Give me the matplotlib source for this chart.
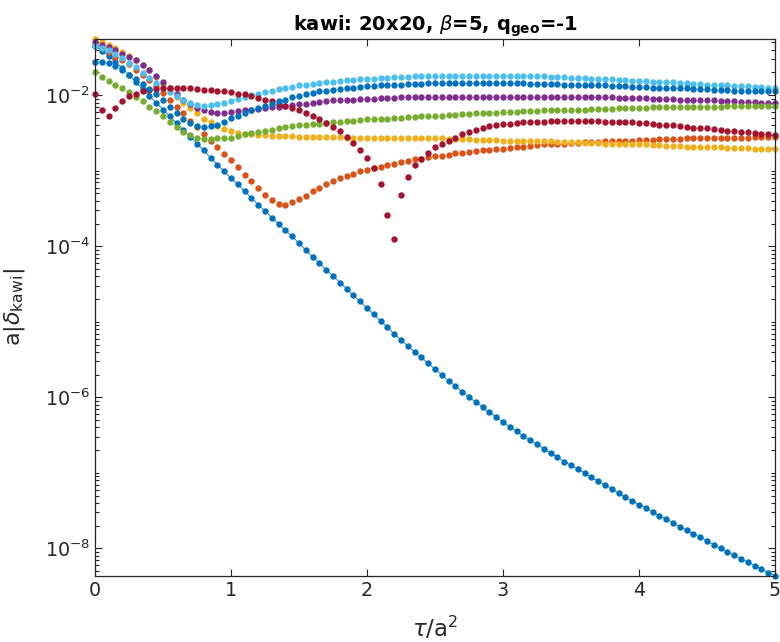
import numpy as np
import matplotlib
matplotlib.use('Agg')
import matplotlib.pyplot as plt
from matplotlib.ticker import LogLocator, FixedLocator, NullFormatter

# time grid (tau/a^2), 101 samples from 0 to 5
tau = np.linspace(0, 5, 101)

# log10 of a|delta_kawi|, one list per series
log_blue_decay = [-1.35, -1.41, -1.48, -1.56, -1.64, -1.73, -1.83, -1.92, -2.01, -2.10,
                  -2.19, -2.28, -2.37, -2.46, -2.55, -2.64, -2.73, -2.83, -2.92, -3.01,
                  -3.10, -3.18, -3.27, -3.36, -3.45, -3.53, -3.62, -3.71, -3.79, -3.87,
                  -3.96, -4.05, -4.14, -4.22, -4.31, -4.39, -4.48, -4.56, -4.65, -4.73,
                  -4.82, -4.90, -4.99, -5.07, -5.16, -5.24, -5.32, -5.40, -5.47, -5.55,
                  -5.63, -5.70, -5.78, -5.85, -5.93, -6.00, -6.06, -6.13, -6.20, -6.26,
                  -6.32, -6.39, -6.45, -6.51, -6.57, -6.62, -6.68, -6.74, -6.79, -6.85,
                  -6.90, -6.95, -7.00, -7.06, -7.11, -7.16, -7.21, -7.27, -7.32, -7.37,
                  -7.42, -7.46, -7.52, -7.57, -7.61, -7.66, -7.71, -7.76, -7.81, -7.85,
                  -7.90, -7.95, -8.00, -8.04, -8.09, -8.14, -8.18, -8.23, -8.27, -8.32, -8.36]

log_orange = [-1.33, -1.38, -1.43, -1.49, -1.54, -1.59, -1.66, -1.73, -1.80, -1.88,
              -1.97, -2.06, -2.15, -2.24, -2.34, -2.42, -2.52, -2.60, -2.69, -2.78,
              -2.86, -2.95, -3.05, -3.14, -3.23, -3.32, -3.39, -3.44, -3.45, -3.42,
              -3.38, -3.33, -3.27, -3.23, -3.18, -3.14, -3.10, -3.07, -3.04, -3.01,
              -2.99, -2.97, -2.95, -2.92, -2.91, -2.89, -2.87, -2.85, -2.84, -2.82,
              -2.81, -2.80, -2.79, -2.77, -2.76, -2.75, -2.74, -2.73, -2.72, -2.71,
              -2.71, -2.70, -2.69, -2.68, -2.67, -2.66, -2.65, -2.65, -2.64, -2.64,
              -2.63, -2.63, -2.62, -2.62, -2.62, -2.61, -2.61, -2.60, -2.60, -2.60,
              -2.59, -2.59, -2.59, -2.58, -2.58, -2.58, -2.58, -2.57, -2.57, -2.57,
              -2.57, -2.57, -2.56, -2.56, -2.56, -2.56, -2.56, -2.55, -2.55, -2.55, -2.55]

log_yellow = [-1.26, -1.29, -1.33, -1.38, -1.43, -1.48, -1.54, -1.60, -1.67, -1.76,
              -1.85, -1.94, -2.02, -2.10, -2.17, -2.24, -2.31, -2.36, -2.41, -2.45,
              -2.48, -2.50, -2.51, -2.52, -2.53, -2.53, -2.54, -2.54, -2.54, -2.54,
              -2.55, -2.55, -2.55, -2.55, -2.55, -2.55, -2.55, -2.56, -2.56, -2.56,
              -2.56, -2.56, -2.57, -2.57, -2.57, -2.57, -2.57, -2.57, -2.57, -2.57,
              -2.57, -2.57, -2.58, -2.58, -2.58, -2.58, -2.59, -2.59, -2.59, -2.59,
              -2.60, -2.60, -2.60, -2.60, -2.61, -2.61, -2.61, -2.61, -2.62, -2.62,
              -2.62, -2.62, -2.63, -2.63, -2.63, -2.64, -2.64, -2.64, -2.65, -2.65,
              -2.65, -2.65, -2.66, -2.66, -2.67, -2.67, -2.67, -2.68, -2.68, -2.68,
              -2.69, -2.69, -2.69, -2.70, -2.70, -2.70, -2.70, -2.71, -2.71, -2.71, -2.71]

log_purple = [-1.30, -1.33, -1.36, -1.40, -1.45, -1.49, -1.54, -1.60, -1.67, -1.75,
              -1.83, -1.91, -1.99, -2.06, -2.12, -2.17, -2.20, -2.22, -2.23, -2.23,
              -2.22, -2.21, -2.20, -2.19, -2.18, -2.17, -2.16, -2.15, -2.14, -2.13,
              -2.12, -2.11, -2.10, -2.09, -2.08, -2.07, -2.07, -2.06, -2.06, -2.05,
              -2.05, -2.05, -2.04, -2.04, -2.04, -2.03, -2.03, -2.03, -2.03, -2.03,
              -2.02, -2.02, -2.02, -2.02, -2.02, -2.02, -2.02, -2.02, -2.02, -2.02,
              -2.02, -2.02, -2.02, -2.02, -2.02, -2.02, -2.02, -2.02, -2.02, -2.02,
              -2.02, -2.03, -2.03, -2.03, -2.03, -2.03, -2.03, -2.04, -2.04, -2.04,
              -2.04, -2.04, -2.05, -2.05, -2.05, -2.05, -2.06, -2.06, -2.06, -2.07,
              -2.07, -2.07, -2.08, -2.08, -2.08, -2.09, -2.09, -2.09, -2.10, -2.10, -2.10]

log_green = [-1.69, -1.76, -1.81, -1.87, -1.91, -1.96, -2.02, -2.08, -2.15, -2.21,
             -2.28, -2.35, -2.42, -2.49, -2.53, -2.57, -2.58, -2.58, -2.57, -2.57,
             -2.56, -2.54, -2.52, -2.50, -2.49, -2.47, -2.46, -2.44, -2.42, -2.41,
             -2.40, -2.39, -2.38, -2.38, -2.37, -2.36, -2.35, -2.34, -2.34, -2.33,
             -2.32, -2.32, -2.31, -2.31, -2.30, -2.30, -2.29, -2.29, -2.28, -2.28,
             -2.27, -2.27, -2.26, -2.26, -2.25, -2.25, -2.24, -2.24, -2.23, -2.23,
             -2.22, -2.22, -2.22, -2.21, -2.21, -2.21, -2.20, -2.20, -2.20, -2.19,
             -2.19, -2.19, -2.19, -2.18, -2.18, -2.18, -2.18, -2.17, -2.17, -2.17,
             -2.17, -2.17, -2.16, -2.16, -2.16, -2.16, -2.16, -2.15, -2.15, -2.15,
             -2.15, -2.15, -2.15, -2.14, -2.14, -2.14, -2.14, -2.14, -2.14, -2.14, -2.14]

log_lightblue = [-1.35, -1.37, -1.40, -1.45, -1.51, -1.57, -1.63, -1.70, -1.77, -1.84,
                 -1.90, -1.96, -2.01, -2.06, -2.10, -2.13, -2.14, -2.13, -2.12, -2.10,
                 -2.08, -2.05, -2.02, -2.00, -1.98, -1.96, -1.94, -1.92, -1.90, -1.89,
                 -1.87, -1.86, -1.85, -1.84, -1.83, -1.82, -1.81, -1.80, -1.80, -1.79,
                 -1.78, -1.78, -1.77, -1.77, -1.76, -1.76, -1.76, -1.75, -1.75, -1.75,
                 -1.75, -1.74, -1.74, -1.74, -1.74, -1.74, -1.74, -1.74, -1.74, -1.74,
                 -1.74, -1.74, -1.74, -1.74, -1.75, -1.75, -1.75, -1.76, -1.76, -1.76,
                 -1.77, -1.77, -1.77, -1.78, -1.78, -1.79, -1.79, -1.80, -1.80, -1.81,
                 -1.81, -1.81, -1.82, -1.82, -1.83, -1.83, -1.84, -1.84, -1.85, -1.85,
                 -1.86, -1.86, -1.87, -1.87, -1.88, -1.88, -1.88, -1.89, -1.89, -1.90, -1.90]

log_red = [-1.99, -2.19, -2.27, -2.17, -2.08, -2.01, -1.98, -1.95, -1.93, -1.92,
           -1.91, -1.91, -1.91, -1.91, -1.91, -1.92, -1.93, -1.93, -1.94, -1.95,
           -1.96, -1.98, -1.99, -2.01, -2.04, -2.06, -2.08, -2.12, -2.14, -2.17,
           -2.20, -2.24, -2.28, -2.32, -2.37, -2.42, -2.48, -2.55, -2.63, -2.72,
           -2.83, -2.97, -3.18, -3.59, -3.91, -3.32, -3.08, -2.93, -2.84, -2.76,
           -2.69, -2.64, -2.60, -2.57, -2.52, -2.49, -2.46, -2.43, -2.41, -2.40,
           -2.38, -2.38, -2.37, -2.36, -2.35, -2.35, -2.35, -2.34, -2.34, -2.34,
           -2.34, -2.34, -2.34, -2.34, -2.34, -2.35, -2.35, -2.35, -2.36, -2.36,
           -2.37, -2.37, -2.38, -2.39, -2.39, -2.40, -2.41, -2.42, -2.43, -2.43,
           -2.44, -2.45, -2.46, -2.47, -2.48, -2.49, -2.49, -2.50, -2.51, -2.52, -2.53]

log_blue_flat = [-1.56, -1.56, -1.58, -1.61, -1.67, -1.73, -1.79, -1.85, -1.92, -1.99,
                 -2.07, -2.15, -2.23, -2.31, -2.37, -2.41, -2.42, -2.41, -2.39, -2.35,
                 -2.30, -2.27, -2.23, -2.20, -2.17, -2.14, -2.11, -2.08, -2.06, -2.03,
                 -2.01, -1.99, -1.97, -1.95, -1.94, -1.93, -1.92, -1.91, -1.90, -1.89,
                 -1.88, -1.88, -1.87, -1.87, -1.86, -1.86, -1.85, -1.85, -1.85, -1.84,
                 -1.84, -1.84, -1.84, -1.84, -1.84, -1.84, -1.84, -1.84, -1.84, -1.84,
                 -1.84, -1.84, -1.84, -1.84, -1.85, -1.85, -1.85, -1.85, -1.85, -1.86,
                 -1.86, -1.86, -1.86, -1.87, -1.87, -1.87, -1.88, -1.88, -1.88, -1.89,
                 -1.89, -1.89, -1.90, -1.90, -1.90, -1.91, -1.91, -1.91, -1.92, -1.92,
                 -1.92, -1.93, -1.93, -1.93, -1.94, -1.94, -1.94, -1.94, -1.95, -1.95, -1.95]

# matlab default colour order
colors = ['#0072BD', '#D95319', '#EDB120', '#7E2F8E', '#77AC30', '#4DBEEE', '#A2142F', '#0072BD']
dots = [log_orange, log_yellow, log_purple, log_green, log_lightblue, log_red, log_blue_flat]

plt.rcParams['font.family'] = ['DejaVu Sans']
plt.rcParams['mathtext.fontset'] = 'dejavusans'

fig = plt.figure(figsize=(7.8, 6.42), dpi=100)
ax = fig.add_axes([0.1218, 0.1033, 0.8718, 0.8355])

ms = 4.6
ax.plot(tau, 10 ** np.array(log_blue_decay), '-o', color=colors[0], lw=0.6,
        ms=ms, mew=0, clip_on=False)
for k, d in enumerate(dots):
    ax.plot(tau, 10 ** np.array(d), 'o', color=colors[k + 1], ms=ms, mew=0, clip_on=False)

ax.set_yscale('log')
ax.set_xlim(0, 5)
ax.set_ylim(10 ** -8.36, 10 ** -1.26)

dark = '#262626'
ax.yaxis.set_major_locator(FixedLocator([1e-8, 1e-6, 1e-4, 1e-2]))
ax.yaxis.set_minor_locator(LogLocator(base=10, subs=np.arange(1, 10), numticks=30))
ax.yaxis.set_minor_formatter(NullFormatter())
ax.set_xticks([0, 1, 2, 3, 4, 5])
ax.set_xticklabels(['0', '1', '2', '3', '4', '5'])

ax.tick_params(which='both', direction='in', top=True, right=True, colors=dark,
               labelsize=13.8, width=0.8)
ax.tick_params(which='major', length=4.8)
ax.tick_params(which='minor', length=2.6)
for s in ax.spines.values():
    s.set_color(dark)
    s.set_linewidth(0.9)

ax.set_title(r'kawi: 20x20, $\beta$=5, q$_{\mathbf{geo}}$=-1', fontsize=14,
             fontweight='bold', color='black', pad=6)
ax.set_xlabel(r'$\tau$/a$^2$', fontsize=16.5, color=dark)
ax.xaxis.set_label_coords(0.5, -0.073)
ax.set_ylabel(r'a|$\delta$$_{\mathrm{kawi}}$|', fontsize=16, color=dark)
ax.yaxis.set_label_coords(-0.100, 0.5)

fig.savefig('out.png', dpi=100)
